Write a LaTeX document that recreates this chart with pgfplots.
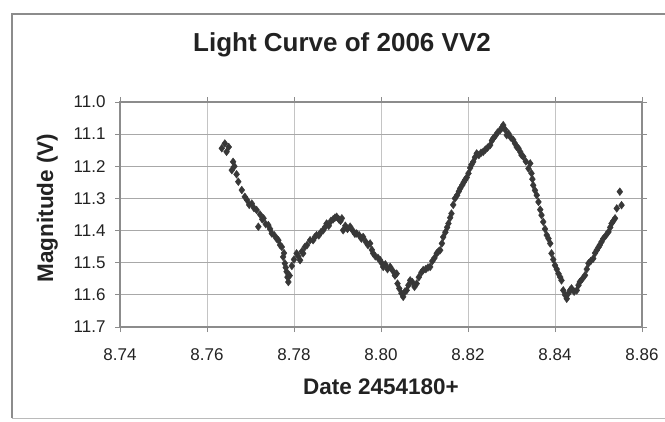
\documentclass[border=0pt]{standalone}
\usepackage{pgfplots}
\pgfplotsset{compat=1.18}
\usepackage{fontspec}
\setmainfont{Liberation Sans}
\definecolor{txt}{HTML}{222222}
\definecolor{mk}{HTML}{383838}
\definecolor{grid}{HTML}{A8A8A8}
\definecolor{vgrid}{HTML}{C4C4C4}
\definecolor{frame}{HTML}{8C8C8C}
\begin{document}
\begin{tikzpicture}[x=1pt,y=1pt]
\useasboundingbox (0,0) rectangle (665,421);
\draw[frame, line width=1.2pt] (12,3) -- (12,407) -- (665,407);
\draw[frame!60, line width=0.8pt] (12,3) -- (665,3);
\begin{axis}[
  at={(120pt,94pt)}, anchor=south west,
  width=522pt, height=225pt, scale only axis,
  xmin=8.74, xmax=8.86, ymin=11.0, ymax=11.7,
  y dir=reverse,
  xtick={8.74,8.76,8.78,8.80,8.82,8.84,8.86},
  ytick={11.0,11.1,11.2,11.3,11.4,11.5,11.6,11.7},
  /pgf/number format/assume math mode=true,
  xticklabel style={/pgf/number format/fixed, /pgf/number format/fixed zerofill, /pgf/number format/precision=2, yshift=-13pt},
  yticklabel style={/pgf/number format/fixed, /pgf/number format/fixed zerofill, /pgf/number format/precision=1, xshift=-6pt},
  ticklabel style={font=\fontsize{17}{20}\selectfont, text=txt},
  tick align=outside, major tick length=5pt,
  tick style={color=frame, line width=0.8pt},
  axis line style={color=frame, line width=1.1pt},
  xmajorgrids, ymajorgrids,
  x grid style={color=vgrid, line width=0.8pt},
  y grid style={color=grid, line width=1pt},
  scaled ticks=false,
  clip=false,
]
\addplot[only marks, mark=diamond*, mark size=3.9pt, mark options={fill=mk, draw=mk, line width=0.4pt}] coordinates {
(8.7634,11.144) (8.7641,11.129) (8.7645,11.155) (8.7650,11.140) (8.7657,11.212)
(8.7660,11.186) (8.7663,11.200) (8.7668,11.225) (8.7672,11.248) (8.7680,11.274)
(8.7687,11.295) (8.7692,11.305) (8.7697,11.320) (8.7703,11.316) (8.7708,11.330)
(8.7714,11.336) (8.7718,11.388) (8.7722,11.350) (8.7727,11.365) (8.7730,11.362)
(8.7735,11.380) (8.7741,11.383) (8.7745,11.395) (8.7749,11.409) (8.7755,11.415)
(8.7760,11.425) (8.7764,11.430) (8.7768,11.445) (8.7772,11.451) (8.7775,11.482)
(8.7777,11.470) (8.7779,11.502) (8.7781,11.515) (8.7783,11.528) (8.7785,11.545)
(8.7787,11.560) (8.7790,11.540) (8.7795,11.510) (8.7800,11.490) (8.7806,11.471)
(8.7810,11.480) (8.7814,11.492) (8.7818,11.465) (8.7821,11.471) (8.7825,11.451)
(8.7830,11.445) (8.7837,11.430) (8.7844,11.430) (8.7848,11.420) (8.7852,11.414)
(8.7857,11.415) (8.7862,11.405) (8.7867,11.399) (8.7871,11.390) (8.7875,11.378)
(8.7880,11.385) (8.7885,11.370) (8.7890,11.365) (8.7894,11.360) (8.7898,11.357)
(8.7903,11.365) (8.7907,11.370) (8.7910,11.362) (8.7913,11.399) (8.7918,11.385)
(8.7923,11.395) (8.7929,11.388) (8.7935,11.400) (8.7940,11.410) (8.7944,11.409)
(8.7950,11.415) (8.7955,11.425) (8.7959,11.420) (8.7965,11.435) (8.7970,11.445)
(8.7975,11.440) (8.7979,11.460) (8.7982,11.471) (8.7987,11.480) (8.7993,11.485)
(8.7998,11.492) (8.8001,11.500) (8.8005,11.513) (8.8010,11.505) (8.8015,11.520)
(8.8021,11.513) (8.8027,11.525) (8.8032,11.540) (8.8036,11.534) (8.8038,11.565)
(8.8042,11.580) (8.8047,11.595) (8.8051,11.606) (8.8055,11.590) (8.8059,11.586)
(8.8063,11.570) (8.8067,11.555) (8.8072,11.560) (8.8077,11.575) (8.8082,11.565)
(8.8087,11.545) (8.8093,11.530) (8.8097,11.523) (8.8103,11.520) (8.8108,11.515)
(8.8113,11.513) (8.8118,11.495) (8.8123,11.485) (8.8128,11.471) (8.8132,11.465)
(8.8136,11.461) (8.8140,11.440) (8.8143,11.420) (8.8148,11.405) (8.8152,11.390)
(8.8155,11.378) (8.8159,11.360) (8.8162,11.347) (8.8166,11.320) (8.8170,11.300)
(8.8175,11.290) (8.8179,11.278) (8.8182,11.269) (8.8187,11.258) (8.8190,11.250)
(8.8193,11.243) (8.8197,11.235) (8.8201,11.222) (8.8205,11.205) (8.8208,11.195)
(8.8212,11.186) (8.8216,11.172) (8.8220,11.160) (8.8225,11.165) (8.8230,11.158)
(8.8235,11.155) (8.8240,11.148) (8.8245,11.142) (8.8251,11.134) (8.8255,11.120)
(8.8258,11.113) (8.8263,11.105) (8.8268,11.095) (8.8274,11.087) (8.8278,11.080)
(8.8281,11.072) (8.8285,11.085) (8.8289,11.103) (8.8293,11.098) (8.8298,11.110)
(8.8304,11.118) (8.8308,11.129) (8.8312,11.140) (8.8316,11.144) (8.8320,11.155)
(8.8323,11.165) (8.8327,11.170) (8.8333,11.185) (8.8339,11.207) (8.8343,11.191)
(8.8346,11.222) (8.8348,11.240) (8.8350,11.259) (8.8354,11.275) (8.8358,11.290)
(8.8362,11.311) (8.8366,11.335) (8.8369,11.352) (8.8373,11.373) (8.8377,11.395)
(8.8381,11.414) (8.8385,11.425) (8.8389,11.440) (8.8392,11.471) (8.8396,11.490)
(8.8400,11.508) (8.8404,11.520) (8.8408,11.534) (8.8412,11.545) (8.8415,11.555)
(8.8419,11.586) (8.8423,11.600) (8.8427,11.612) (8.8431,11.595) (8.8435,11.585)
(8.8438,11.580) (8.8444,11.590) (8.8450,11.586) (8.8454,11.570) (8.8457,11.560)
(8.8463,11.550) (8.8469,11.539) (8.8473,11.520) (8.8477,11.502) (8.8482,11.495)
(8.8488,11.487) (8.8492,11.470) (8.8496,11.461) (8.8500,11.452) (8.8503,11.445)
(8.8507,11.435) (8.8511,11.425) (8.8517,11.415) (8.8523,11.404) (8.8527,11.390)
(8.8530,11.378) (8.8534,11.370) (8.8538,11.362) (8.8542,11.331) (8.8549,11.279)
(8.8553,11.321)
};
\end{axis}
\node[anchor=base, font=\bfseries\fontsize{26}{30}\selectfont, text=txt] at (342,369) {Light Curve of 2006 VV2};
\node[anchor=base, font=\bfseries\fontsize{22.5}{26}\selectfont, text=txt] at (381,27) {Date 2454180+};
\node[anchor=base, rotate=90, font=\bfseries\fontsize{22.5}{26}\selectfont, text=txt] at (53,213) {Magnitude (V)};
\end{tikzpicture}
\end{document}
